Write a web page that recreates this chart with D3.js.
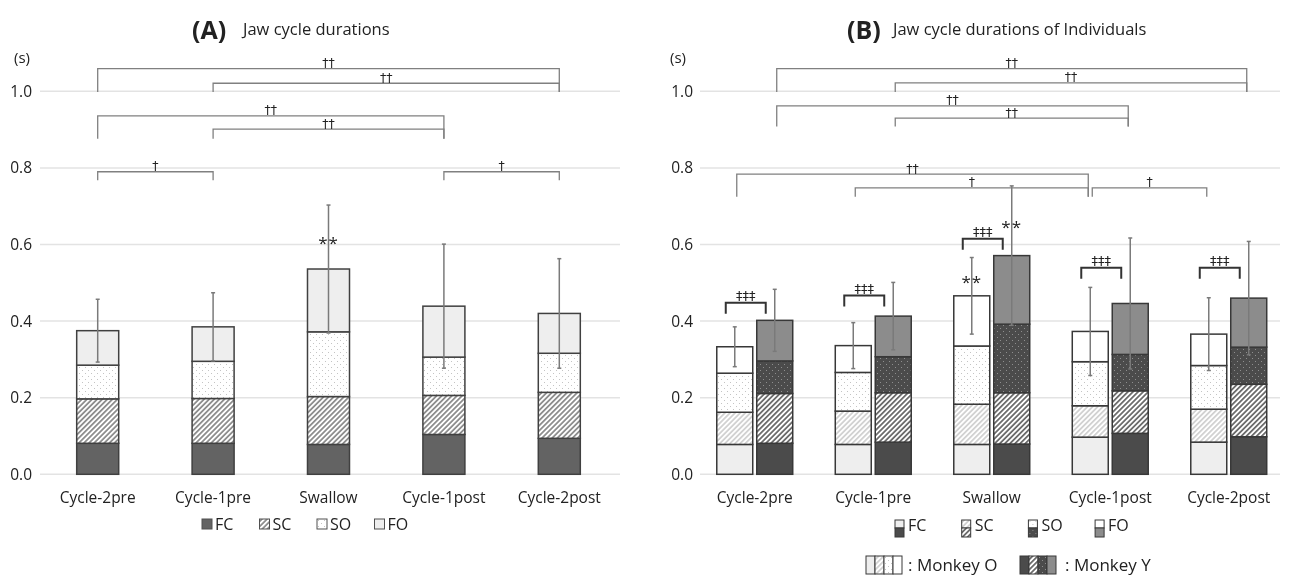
<!DOCTYPE html>
<html>
<head>
<meta charset="utf-8">
<script src="https://cdn.jsdelivr.net/npm/d3@7"></script>
<style>
  body { margin: 0; background: #fff; }
  svg { will-change: transform; }
  text { font-family: "Open Sans", sans-serif; fill: #222; }
  text.mark { font-family: "DejaVu Sans", sans-serif; }
</style>
</head>
<body>
<div id="chart"></div>
<script>
var categories = ["Cycle-2pre", "Cycle-1pre", "Swallow", "Cycle-1post", "Cycle-2post"];
var phases = ["FC", "SC", "SO", "FO"];
var monkeys = ["O", "Y"];
var yTicks = [0, 0.2, 0.4, 0.6, 0.8, 1.0];

// (A) mean durations of each phase, seconds
var fcA = [0.081, 0.081, 0.078, 0.104, 0.094];
var scA = [0.116, 0.117, 0.125, 0.102, 0.120];
var soA = [0.088, 0.097, 0.169, 0.100, 0.102];
var foA = [0.090, 0.090, 0.164, 0.133, 0.104];
var sdA = [0.082, 0.089, 0.167, 0.162, 0.143];

// (B) monkey O
var fcO = [0.078, 0.078, 0.078, 0.097, 0.084];
var scO = [0.084, 0.087, 0.105, 0.082, 0.086];
var soO = [0.102, 0.101, 0.152, 0.115, 0.114];
var foO = [0.069, 0.070, 0.131, 0.079, 0.082];
var sdO = [0.052, 0.060, 0.100, 0.115, 0.095];

// (B) monkey Y
var fcY = [0.081, 0.084, 0.079, 0.107, 0.098];
var scY = [0.130, 0.129, 0.134, 0.111, 0.137];
var soY = [0.085, 0.094, 0.179, 0.095, 0.097];
var foY = [0.106, 0.106, 0.179, 0.133, 0.128];
var sdY = [0.081, 0.088, 0.182, 0.171, 0.148];

// significance marks (levels in seconds on the y scale)
var starsA = [{cat: "Swallow", level: 0.61}];
var starsB = [{cat: "Swallow", monkey: "O", level: 0.507}, {cat: "Swallow", monkey: "Y", level: 0.651}];
var bracketsA = [
  {from: "Cycle-2pre", to: "Cycle-2post", level: 1.059, foot: 0.998, label: "††"},
  {from: "Cycle-1pre", to: "Cycle-2post", level: 1.021, foot: 0.998, label: "††"},
  {from: "Cycle-2pre", to: "Cycle-1post", level: 0.936, foot: 0.876, label: "††"},
  {from: "Cycle-1pre", to: "Cycle-1post", level: 0.901, foot: 0.876, label: "††"},
  {from: "Cycle-2pre", to: "Cycle-1pre", level: 0.790, foot: 0.768, label: "†"},
  {from: "Cycle-1post", to: "Cycle-2post", level: 0.790, foot: 0.768, label: "†"}
];
var bracketsB = [
  {from: ["Cycle-2pre", "Y"], to: ["Cycle-2post", "Y"], level: 1.059, foot: 0.998, label: "††"},
  {from: ["Cycle-1pre", "Y"], to: ["Cycle-2post", "Y"], level: 1.022, foot: 0.998, label: "††"},
  {from: ["Cycle-2pre", "Y"], to: ["Cycle-1post", "Y"], level: 0.962, foot: 0.908, label: "††"},
  {from: ["Cycle-1pre", "Y"], to: ["Cycle-1post", "Y"], level: 0.930, foot: 0.908, label: "††"},
  {from: ["Cycle-2pre", "O"], to: ["Cycle-1post", "O"], level: 0.784, foot: 0.725, label: "††"},
  {from: ["Cycle-1pre", "O"], to: ["Cycle-1post", "O"], level: 0.748, foot: 0.725, label: "†"},
  {from: ["Cycle-1post", "O"], to: ["Cycle-2post", "O"], level: 0.748, foot: 0.725, label: "†"}
];
var pairLevels = [0.448, 0.467, 0.615, 0.539, 0.539]; // ‡‡‡ between monkeys

var svg = d3.select("#chart").append("svg").attr("width", 1298).attr("height", 576);
var defs = svg.append("defs");

function hatch(id, color, w, gap) {
  var p = defs.append("pattern").attr("id", id).attr("patternUnits", "userSpaceOnUse")
    .attr("width", gap).attr("height", gap).attr("patternTransform", "rotate(45)");
  p.append("rect").attr("width", gap).attr("height", gap).attr("fill", "#fff");
  p.append("line").attr("x1", gap / 2).attr("x2", gap / 2).attr("y1", 0).attr("y2", gap)
    .attr("stroke", color).attr("stroke-width", w);
}
function dots(id, bg, color) {
  var p = defs.append("pattern").attr("id", id).attr("patternUnits", "userSpaceOnUse")
    .attr("width", 6).attr("height", 6);
  p.append("rect").attr("width", 6).attr("height", 6).attr("fill", bg);
  p.append("rect").attr("x", 1).attr("y", 1).attr("width", 1).attr("height", 1).attr("fill", color);
  p.append("rect").attr("x", 4).attr("y", 4).attr("width", 1).attr("height", 1).attr("fill", color);
}
hatch("hatchA", "#555", 1.2, 3.6);
hatch("hatchO", "#b5b5b5", 1.1, 3.6);
hatch("hatchY", "#333", 1.3, 3.6);
dots("dotsL", "#fff", "#c4c4c4");
dots("dotsY", "#4b4b4b", "#8e8e8e");

var fillA = {FC: "#636363", SC: "url(#hatchA)", SO: "url(#dotsL)", FO: "#eeeeee"};
var fillB = {
  O: {FC: "#eeeeee", SC: "url(#hatchO)", SO: "url(#dotsL)", FO: "#ffffff"},
  Y: {FC: "#4b4b4b", SC: "url(#hatchY)", SO: "url(#dotsY)", FO: "#8c8c8c"}
};

var y = d3.scaleLinear().domain([0, 1]).range([474.3, 91.3]);
var stack = d3.stack().keys(phases);

function rows(fc, sc, so, fo, sd) {
  return categories.map(function (c, i) {
    return {cat: c, FC: fc[i], SC: sc[i], SO: so[i], FO: fo[i], sd: sd[i]};
  });
}

function yAxis(x0, gx0, gx1, pad) {
  var g = svg.append("g");
  g.selectAll(".grid").data(yTicks).enter().append("line")
    .attr("x1", gx0).attr("x2", gx1)
    .attr("y1", function (d) { return y(d); }).attr("y2", function (d) { return y(d); })
    .attr("stroke", "#e3e3e3").attr("stroke-width", 1.5);
  var ax = svg.append("g").attr("transform", "translate(" + x0 + ",0)")
    .call(d3.axisLeft(y).tickValues(yTicks).tickFormat(d3.format(".1f")).tickSize(0).tickPadding(pad));
  ax.select(".domain").remove();
  ax.selectAll("text").style("font-family", "'Open Sans', sans-serif").style("font-size", "15.5px").attr("fill", "#222");
}

function errBar(g, cx, total, sd) {
  g.append("line").attr("x1", cx).attr("x2", cx).attr("y1", y(total - sd)).attr("y2", y(total + sd))
    .attr("stroke", "#7a7a7a").attr("stroke-width", 1.5);
  [total - sd, total + sd].forEach(function (v) {
    g.append("line").attr("x1", cx - 2).attr("x2", cx + 2).attr("y1", y(v)).attr("y2", y(v))
      .attr("stroke", "#7a7a7a").attr("stroke-width", 1.5);
  });
}

function bracket(x1, x2, b, fontSize) {
  svg.append("path")
    .attr("d", "M" + x1 + "," + y(b.foot) + "V" + y(b.level) + "H" + x2 + "V" + y(b.foot))
    .attr("fill", "none").attr("stroke", "#808080").attr("stroke-width", 1.3);
  svg.append("text").attr("class", "mark").attr("x", (x1 + x2) / 2).attr("y", y(b.level) - 1.5)
    .attr("text-anchor", "middle").style("font-size", fontSize + "px").text(b.label);
}

function catLabels(centre) {
  svg.append("g").selectAll("text").data(categories).enter().append("text")
    .attr("x", function (d) { return centre(d); }).attr("y", 503)
    .attr("text-anchor", "middle").style("font-size", "15.5px").text(function (d) { return d; });
}

// ---------- (A) ----------
var xA = d3.scaleBand().domain(categories).range([40, 617]).paddingInner(0.636).paddingOuter(0.318);
yAxis(40, 40, 620, 8);
svg.append("text").attr("x", 14).attr("y", 63).style("font-size", "15px").text("(s)");

var dataA = rows(fcA, scA, soA, foA, sdA);
var gA = svg.append("g");
stack(dataA).forEach(function (layer) {
  gA.selectAll(".b" + layer.key).data(layer).enter().append("rect")
    .attr("x", function (d) { return xA(d.data.cat); })
    .attr("width", xA.bandwidth())
    .attr("y", function (d) { return y(d[1]); })
    .attr("height", function (d) { return y(d[0]) - y(d[1]); })
    .attr("fill", fillA[layer.key]).attr("stroke", "#404040").attr("stroke-width", 1.5);
});
dataA.forEach(function (d) {
  errBar(gA, xA(d.cat) + xA.bandwidth() / 2, d.FC + d.SC + d.SO + d.FO, d.sd);
});
starsA.forEach(function (s) {
  svg.append("text").attr("x", xA(s.cat) + xA.bandwidth() / 2).attr("y", y(s.level) + 8)
    .attr("text-anchor", "middle").style("font-size", "17px").style("letter-spacing", "1px").text("**");
});
bracketsA.forEach(function (b) {
  bracket(xA(b.from) + xA.bandwidth() / 2, xA(b.to) + xA.bandwidth() / 2, b, 12.5);
});
catLabels(function (d) { return xA(d) + xA.bandwidth() / 2; });

svg.append("text").attr("x", 192).attr("y", 39).style("font-size", "25px").style("font-weight", "bold").text("(A)");
svg.append("text").attr("x", 243).attr("y", 35).style("font-size", "16.5px").text("Jaw cycle durations");

// legend A
var legA = svg.append("g").selectAll("g").data(phases).enter().append("g")
  .attr("transform", function (d, i) { return "translate(" + (202 + i * 57.5) + ",519)"; });
legA.append("rect").attr("width", 10).attr("height", 10)
  .attr("fill", function (d) { return fillA[d]; }).attr("stroke", "#505050").attr("stroke-width", 1);
legA.append("text").attr("x", 13).attr("y", 10.5).style("font-size", "16px").text(function (d) { return d; });

// ---------- (B) ----------
var xB = d3.scaleBand().domain(categories).range([695.5, 1288]).paddingInner(0.359).paddingOuter(0.1795);
var xM = d3.scaleBand().domain(monkeys).range([0, xB.bandwidth()]).paddingInner(0.1);
function cB(cat, m) { return xB(cat) + xM(m) + xM.bandwidth() / 2; }

yAxis(700, 700, 1280, 7);
svg.append("text").attr("x", 670).attr("y", 63).style("font-size", "15px").text("(s)");

var dataB = {O: rows(fcO, scO, soO, foO, sdO), Y: rows(fcY, scY, soY, foY, sdY)};
var gB = svg.append("g");
monkeys.forEach(function (m) {
  stack(dataB[m]).forEach(function (layer) {
    gB.selectAll(".b" + m + layer.key).data(layer).enter().append("rect")
      .attr("x", function (d) { return xB(d.data.cat) + xM(m); })
      .attr("width", xM.bandwidth())
      .attr("y", function (d) { return y(d[1]); })
      .attr("height", function (d) { return y(d[0]) - y(d[1]); })
      .attr("fill", fillB[m][layer.key]).attr("stroke", "#383838").attr("stroke-width", 1.5);
  });
});
monkeys.forEach(function (m) {
  dataB[m].forEach(function (d) {
    errBar(gB, cB(d.cat, m), d.FC + d.SC + d.SO + d.FO, d.sd);
  });
});
starsB.forEach(function (s) {
  svg.append("text").attr("x", cB(s.cat, s.monkey)).attr("y", y(s.level) + 8)
    .attr("text-anchor", "middle").style("font-size", "17px").style("letter-spacing", "1px").text("**");
});
bracketsB.forEach(function (b) {
  bracket(cB(b.from[0], b.from[1]) + 2, cB(b.to[0], b.to[1]) - 2, b, 12.5);
});
// ‡‡‡ between monkey O and Y
categories.forEach(function (c, i) {
  var x1 = cB(c, "O") - 9, x2 = cB(c, "Y") - 9, ly = y(pairLevels[i]);
  svg.append("path").attr("d", "M" + x1 + "," + (ly + 11) + "V" + ly + "H" + x2 + "V" + (ly + 11))
    .attr("fill", "none").attr("stroke", "#333").attr("stroke-width", 2);
  svg.append("text").attr("class", "mark").attr("x", (x1 + x2) / 2).attr("y", ly - 2.5).attr("text-anchor", "middle")
    .style("font-size", "13px").text("‡‡‡");
});
catLabels(function (d) { return xB(d) + xB.bandwidth() / 2; });

svg.append("text").attr("x", 847).attr("y", 39).style("font-size", "25px").style("font-weight", "bold").text("(B)");
svg.append("text").attr("x", 893).attr("y", 35).style("font-size", "16.5px").text("Jaw cycle durations of Individuals");

// legend B, row 1: phase icons (top half monkey O, bottom half monkey Y)
var legB = svg.append("g").selectAll("g").data(phases).enter().append("g")
  .attr("transform", function (d, i) { return "translate(" + (895 + i * 66.7) + ",520)"; });
legB.append("rect").attr("width", 9).attr("height", 8)
  .attr("fill", function (d) { return fillB.O[d]; }).attr("stroke", "#383838").attr("stroke-width", 1);
legB.append("rect").attr("y", 8).attr("width", 9).attr("height", 9)
  .attr("fill", function (d) { return fillB.Y[d]; }).attr("stroke", "#383838").attr("stroke-width", 1);
legB.append("text").attr("x", 13).attr("y", 11).style("font-size", "16px").text(function (d) { return d; });

// legend B, row 2: monkey swatches
var swatch = [{m: "O", x: 866, tx: 908, label: ": Monkey O"}, {m: "Y", x: 1020, tx: 1065, label: ": Monkey Y"}];
swatch.forEach(function (s) {
  var g = svg.append("g").attr("transform", "translate(" + s.x + ",556)");
  g.selectAll("rect").data(phases).enter().append("rect")
    .attr("x", function (d, i) { return i * 9; }).attr("width", 9).attr("height", 18)
    .attr("fill", function (d) { return fillB[s.m][d]; }).attr("stroke", "#383838").attr("stroke-width", 1);
  svg.append("text").attr("x", s.tx).attr("y", 571).style("font-size", "17px").text(s.label);
});
</script>
</body>
</html>
